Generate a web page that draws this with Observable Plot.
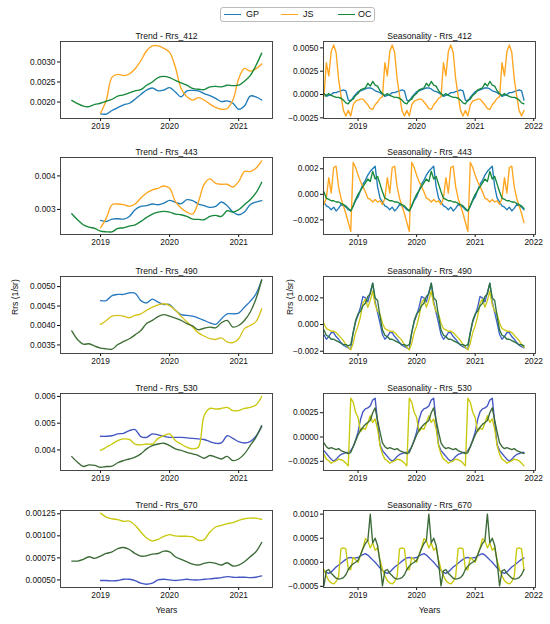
<!DOCTYPE html>
<html><head><meta charset="utf-8">
<script src="https://cdn.jsdelivr.net/npm/d3@7"></script>
<script src="https://cdn.jsdelivr.net/npm/@observablehq/plot@0.6"></script>
<style>
body{margin:0;background:#fff;font-family:"Liberation Sans",Arial,sans-serif;}
#wrap{position:relative;width:550px;height:624px;overflow:hidden;}
.panel{position:absolute;}
#legend{position:absolute;left:220px;top:7px;width:153px;height:13px;border:1px solid #bbb;border-radius:3px;background:#fff;font-size:9px;color:#111;}
.li{position:absolute;top:0;height:13px;line-height:13px;}
.ls{position:absolute;top:6px;height:0;border-top:1.5px solid;}
</style></head>
<body><div id="wrap">
<div id="legend"></div>
</div>
<script>
// ---------- DATA ----------
const seriesNames = ["GP", "JS", "OC"];
const bands = ["412", "443", "490", "530", "670"];
const trendMonths = ["2018-08","2018-09","2018-10","2018-11","2018-12",
  "2019-01","2019-02","2019-03","2019-04","2019-05","2019-06","2019-07","2019-08","2019-09","2019-10","2019-11","2019-12",
  "2020-01","2020-02","2020-03","2020-04","2020-05","2020-06","2020-07","2020-08","2020-09","2020-10","2020-11","2020-12",
  "2021-01","2021-02","2021-03","2021-04","2021-05"];
const N = null;
// Trend components (Rrs, 1/sr)
const trend412GP = [N,N,N,N,N,17.05e-4,17.0e-4,17.9e-4,18.6e-4,19.3e-4,19.7e-4,20.7e-4,21.9e-4,23.0e-4,23.5e-4,22.8e-4,23.0e-4,23.6e-4,22.5e-4,21.3e-4,22.8e-4,22.9e-4,22.8e-4,22.1e-4,21.6e-4,20.9e-4,20.1e-4,20.3e-4,19.7e-4,18.2e-4,19.0e-4,21.5e-4,21.3e-4,20.5e-4];
const trend412JS = [N,N,N,N,N,17.2e-4,20.5e-4,26.2e-4,26.9e-4,26.6e-4,27.0e-4,28.3e-4,30.3e-4,32.8e-4,34.0e-4,34.0e-4,33.4e-4,32.4e-4,28.7e-4,23.4e-4,21.3e-4,20.5e-4,21.1e-4,20.5e-4,19.5e-4,18.7e-4,18.2e-4,18.4e-4,20.5e-4,25.8e-4,28.4e-4,27.7e-4,28.3e-4,29.5e-4];
const trend412OC = [20.4e-4,19.6e-4,19.0e-4,18.85e-4,19.4e-4,19.7e-4,20.2e-4,20.7e-4,21.5e-4,21.8e-4,22.3e-4,22.8e-4,23.1e-4,24.2e-4,25.0e-4,26.1e-4,26.4e-4,26.1e-4,25.4e-4,24.8e-4,24.2e-4,23.4e-4,23.2e-4,23.1e-4,23.8e-4,23.9e-4,23.8e-4,24.2e-4,24.1e-4,24.2e-4,25.2e-4,26.6e-4,29.1e-4,32.2e-4];

const trend443GP = [N,N,N,N,N,2.67e-3,2.64e-3,2.71e-3,2.72e-3,2.71e-3,2.79e-3,2.99e-3,3.09e-3,3.11e-3,3.16e-3,3.14e-3,3.19e-3,3.27e-3,3.21e-3,3.17e-3,3.29e-3,3.26e-3,3.16e-3,3.11e-3,3.06e-3,3.09e-3,3.22e-3,3.11e-3,2.92e-3,2.84e-3,2.92e-3,3.14e-3,3.22e-3,3.26e-3];
const trend443JS = [N,N,N,N,N,2.45e-3,2.74e-3,3.14e-3,3.16e-3,3.14e-3,3.09e-3,3.16e-3,3.34e-3,3.49e-3,3.58e-3,3.63e-3,3.70e-3,3.63e-3,3.24e-3,3.04e-3,2.92e-3,2.86e-3,3.22e-3,3.75e-3,3.91e-3,3.78e-3,3.75e-3,3.75e-3,3.67e-3,3.83e-3,4.13e-3,4.13e-3,4.23e-3,4.45e-3];
const trend443OC = [2.87e-3,2.69e-3,2.54e-3,2.47e-3,2.43e-3,2.35e-3,2.33e-3,2.33e-3,2.43e-3,2.45e-3,2.50e-3,2.54e-3,2.64e-3,2.76e-3,2.86e-3,2.92e-3,2.94e-3,2.92e-3,2.86e-3,2.84e-3,2.79e-3,2.71e-3,2.70e-3,2.69e-3,2.79e-3,2.82e-3,2.79e-3,2.96e-3,2.92e-3,2.99e-3,3.14e-3,3.29e-3,3.49e-3,3.81e-3];

const trend490GP = [N,N,N,N,N,46.4e-4,46.4e-4,47.7e-4,48.0e-4,48.0e-4,48.4e-4,48.3e-4,46.4e-4,45.8e-4,46.8e-4,46.0e-4,45.4e-4,45.4e-4,43.9e-4,42.8e-4,42.6e-4,42.4e-4,41.9e-4,41.3e-4,40.7e-4,40.3e-4,41.7e-4,43.0e-4,43.0e-4,43.2e-4,44.7e-4,46.2e-4,48.1e-4,51.7e-4];
const trend490JS = [N,N,N,N,N,40.3e-4,41.3e-4,42.4e-4,42.6e-4,42.4e-4,42.0e-4,42.6e-4,43.0e-4,43.9e-4,44.7e-4,45.3e-4,45.6e-4,45.1e-4,43.9e-4,42.4e-4,40.9e-4,39.6e-4,38.1e-4,37.3e-4,36.6e-4,36.4e-4,36.8e-4,35.8e-4,35.6e-4,36.6e-4,39.2e-4,40.0e-4,41.0e-4,44.3e-4];
const trend490OC = [38.6e-4,36.4e-4,35.2e-4,35.3e-4,34.7e-4,34.2e-4,34.0e-4,33.9e-4,35.1e-4,35.9e-4,36.6e-4,37.6e-4,38.7e-4,40.5e-4,41.3e-4,42.3e-4,42.8e-4,42.4e-4,41.9e-4,41.3e-4,40.5e-4,39.9e-4,38.9e-4,39.3e-4,39.6e-4,39.4e-4,40.7e-4,41.3e-4,39.6e-4,40.0e-4,41.3e-4,43.4e-4,46.8e-4,51.7e-4];

const trend530GP = [N,N,N,N,N,4.51e-3,4.51e-3,4.53e-3,4.60e-3,4.62e-3,4.72e-3,4.76e-3,4.50e-3,4.47e-3,4.60e-3,4.56e-3,4.51e-3,4.47e-3,4.47e-3,4.47e-3,4.45e-3,4.43e-3,4.41e-3,4.39e-3,4.31e-3,4.25e-3,4.26e-3,4.53e-3,4.43e-3,4.31e-3,4.26e-3,4.31e-3,4.51e-3,4.87e-3];
const trend530JS = [N,N,N,N,N,3.98e-3,4.10e-3,4.22e-3,4.35e-3,4.41e-3,4.39e-3,4.22e-3,4.19e-3,4.22e-3,4.22e-3,4.43e-3,4.53e-3,4.60e-3,4.35e-3,4.22e-3,4.10e-3,4.04e-3,4.10e-3,5.28e-3,5.55e-3,5.53e-3,5.55e-3,5.59e-3,5.47e-3,5.47e-3,5.55e-3,5.59e-3,5.68e-3,6.00e-3];
const trend530OC = [3.75e-3,3.54e-3,3.38e-3,3.44e-3,3.42e-3,3.35e-3,3.38e-3,3.39e-3,3.52e-3,3.60e-3,3.66e-3,3.73e-3,3.85e-3,4.04e-3,4.16e-3,4.22e-3,4.25e-3,4.16e-3,4.04e-3,3.98e-3,3.91e-3,3.85e-3,3.79e-3,3.69e-3,3.79e-3,3.73e-3,3.66e-3,3.76e-3,3.60e-3,3.66e-3,3.85e-3,4.16e-3,4.47e-3,4.91e-3];

const trend670GP = [N,N,N,N,N,49.3e-5,49.3e-5,48.9e-5,49.3e-5,50.8e-5,50.8e-5,49.3e-5,46.3e-5,45.1e-5,46.3e-5,50.0e-5,50.8e-5,50.0e-5,49.3e-5,50.0e-5,50.8e-5,50.0e-5,50.0e-5,50.8e-5,51.1e-5,51.9e-5,52.6e-5,53.8e-5,53.0e-5,53.0e-5,53.0e-5,52.6e-5,53.0e-5,54.5e-5];
const trend670JS = [N,N,N,N,N,125.8e-5,121.3e-5,119.4e-5,118.3e-5,116.4e-5,116.8e-5,111.9e-5,104.4e-5,97.6e-5,94.3e-5,96.1e-5,99.5e-5,101.4e-5,99.9e-5,99.5e-5,99.5e-5,98.8e-5,95.0e-5,95.8e-5,104.4e-5,110.0e-5,111.9e-5,113.8e-5,114.9e-5,117.5e-5,119.4e-5,120.1e-5,120.1e-5,118.6e-5];
const trend670OC = [71.4e-5,71.4e-5,73.3e-5,76.3e-5,74.4e-5,77.0e-5,80.0e-5,81.9e-5,85.6e-5,86.8e-5,84.5e-5,80.0e-5,77.0e-5,77.4e-5,79.3e-5,80.0e-5,82.6e-5,81.9e-5,76.3e-5,73.3e-5,70.6e-5,68.0e-5,66.9e-5,68.8e-5,69.9e-5,68.8e-5,66.9e-5,69.5e-5,65.8e-5,66.9e-5,70.6e-5,76.3e-5,81.9e-5,92.4e-5];

// Seasonal components: one annual cycle sampled every half month (the cycle repeats each year)
const seasonYears = [2018, 2019, 2020, 2021];
const seasonStart = 2018.41, seasonEnd = 2021.84;
const season412GP = [0.3e-3,0.4e-3,0.5e-3,0.6e-3,0.7e-3,0.7e-3,0.6e-3,0.4e-3,0.3e-3,0.2e-3,0.0,-0.2e-3,-0.1e-3,0.0,0.2e-3,0.2e-3,0.3e-3,0.4e-3,0.5e-3,0.4e-3,-0.6e-3,-0.7e-3,-0.3e-3,0.0];
const season412JS = [-0.6e-3,-0.5e-3,-0.5e-3,-0.8e-3,-1.1e-3,-1.5e-3,-1.6e-3,-1.1e-3,-0.8e-3,-0.4e-3,-0.25e-3,3.4e-3,2.0e-3,4.6e-3,5.3e-3,4.5e-3,1.7e-3,-0.1e-3,-1.7e-3,-2.3e-3,-1.7e-3,-2.3e-3,-1.1e-3,-0.7e-3];
const season412OC = [0.1e-3,0.5e-3,0.6e-3,0.7e-3,1.2e-3,0.9e-3,1.4e-3,1.0e-3,0.9e-3,0.4e-3,0.1e-3,-0.1e-3,0.1e-3,-0.1e-3,-0.2e-3,-0.3e-3,-0.3e-3,-0.4e-3,-0.6e-3,-0.9e-3,-1.0e-3,-0.6e-3,-0.5e-3,-0.1e-3];

const season443GP = [-0.2e-3,0.3e-3,0.8e-3,1.1e-3,1.5e-3,1.8e-3,2.0e-3,2.2e-3,0.6e-3,-0.3e-3,-0.6e-3,-0.9e-3,-1.0e-3,-1.2e-3,-1.0e-3,-1.3e-3,-1.1e-3,-0.8e-3,-0.9e-3,-1.0e-3,-1.2e-3,-1.3e-3,-0.9e-3,-0.5e-3];
const season443JS = [1.5e-3,1.0e-3,0.6e-3,0.2e-3,-0.3e-3,-0.4e-3,-0.6e-3,-0.4e-3,-0.6e-3,-0.5e-3,-0.8e-3,-0.3e-3,1.3e-3,0.1e-3,2.1e-3,2.2e-3,0.6e-3,-0.3e-3,-0.9e-3,-1.5e-3,-2.2e-3,-2.9e-3,2.5e-3,2.1e-3];
const season443OC = [0.0,0.3e-3,0.6e-3,0.9e-3,1.2e-3,1.0e-3,1.8e-3,1.2e-3,1.4e-3,0.8e-3,0.2e-3,-0.3e-3,-0.4e-3,-0.5e-3,-0.5e-3,-0.6e-3,-0.6e-3,-0.7e-3,-0.8e-3,-0.9e-3,-1.1e-3,-1.3e-3,-0.9e-3,-0.4e-3];

const season490GP = [0.7e-3,1.3e-3,2.1e-3,2.0e-3,1.7e-3,2.4e-3,3.1e-3,1.7e-3,0.9e-3,0.1e-3,-0.75e-3,-1.1e-3,-0.9e-3,-0.6e-3,-0.6e-3,-0.9e-3,-1.1e-3,-1.35e-3,-1.55e-3,-1.65e-3,-1.75e-3,-1.85e-3,-0.6e-3,0.2e-3];
const season490JS = [-0.1e-3,0.6e-3,1.6e-3,1.9e-3,1.3e-3,1.8e-3,2.5e-3,1.5e-3,1.0e-3,0.8e-3,0.1e-3,-0.3e-3,-0.4e-3,-0.5e-3,-0.5e-3,-0.6e-3,-0.8e-3,-1.0e-3,-1.2e-3,-1.5e-3,-1.7e-3,-1.9e-3,-1.4e-3,-0.6e-3];
const season490OC = [0.8e-3,1.0e-3,1.4e-3,1.6e-3,2.1e-3,2.3e-3,3.1e-3,2.0e-3,1.8e-3,0.6e-3,-0.4e-3,-0.8e-3,-0.9e-3,-1.1e-3,-1.1e-3,-1.2e-3,-1.3e-3,-1.4e-3,-1.5e-3,-1.5e-3,-1.6e-3,-1.5e-3,-0.6e-3,0.3e-3];

const season530GP = [5e-4,18e-4,26e-4,29e-4,30e-4,32e-4,38e-4,40e-4,15e-4,-8e-4,-14e-4,-17e-4,-20e-4,-23e-4,-25e-4,-23e-4,-20e-4,-18e-4,-17e-4,-16e-4,-16e-4,-14e-4,-10e-4,-3e-4];
const season530JS = [20e-4,5.5e-4,9e-4,8e-4,14.5e-4,22e-4,15e-4,18.6e-4,8e-4,-9e-4,-17.6e-4,-22.8e-4,-24.5e-4,-27e-4,-25.5e-4,-24.5e-4,-22.8e-4,-23.4e-4,-24.5e-4,-27e-4,-29.7e-4,40e-4,36e-4,25.5e-4];
const season530OC = [2e-4,7e-4,10e-4,13e-4,15e-4,17e-4,25e-4,30e-4,17e-4,5e-4,-6e-4,-10e-4,-12e-4,-11e-4,-12e-4,-13e-4,-12e-4,-14e-4,-15e-4,-16e-4,-17e-4,-16e-4,-10e-4,-4e-4];

const season670GP = [1.0e-4,1.3e-4,1.6e-4,1.8e-4,1.5e-4,1.0e-4,0.5e-4,0.0,-0.6e-4,-1.2e-4,-1.7e-4,-2.1e-4,-2.3e-4,-2.0e-4,-1.5e-4,-1.0e-4,-0.6e-4,-0.2e-4,0.2e-4,0.6e-4,0.9e-4,1.0e-4,0.8e-4,0.9e-4];
const season670JS = [0.0,1.5e-4,3.0e-4,4.9e-4,4.5e-4,3.0e-4,4.0e-4,2.5e-4,3.0e-4,0.5e-4,-1.5e-4,-2.8e-4,-3.8e-4,-4.3e-4,-4.5e-4,-4.0e-4,-3.0e-4,2.8e-4,3.0e-4,2.8e-4,-1.5e-4,-1.5e-4,1.0e-4,0.5e-4];
const season670OC = [0.4e-4,1.5e-4,2.8e-4,3.9e-4,4.5e-4,10.0e-4,4.0e-4,5.0e-4,3.5e-4,0.0,-4.9e-4,-1.8e-4,-1.5e-4,-2.3e-4,-2.8e-4,-3.3e-4,-3.5e-4,-3.4e-4,-3.2e-4,-2.6e-4,-1.5e-4,-0.8e-4,-0.3e-4,0.0];

// y axis ticks per band
const trendTicks = {"412":[0.0020,0.0025,0.0030],"443":[0.003,0.004],"490":[0.0035,0.0040,0.0045,0.0050],"530":[0.004,0.005,0.006],"670":[0.0005,0.00075,0.0010,0.00125]};
const trendDecimals = {"412":4,"443":3,"490":4,"530":3,"670":5};
const seasonTicks = {"412":[-0.0025,0,0.0025,0.0050],"443":[-0.002,0,0.002],"490":[-0.002,0,0.002],"530":[-0.0025,0,0.0025],"670":[-0.0005,0,0.0005,0.0010]};
const seasonDecimals = {"412":4,"443":3,"490":3,"530":4,"670":4};
const trendXTicks = [2019, 2020, 2021];
const seasonXTicks = [2019, 2020, 2021, 2022];

// ---------- LAYOUT / STYLE ----------
const trendYDomain = {"412":[15.9e-4,35.1e-4],"443":[2.25e-3,4.55e-3],"490":[32.8e-4,52.6e-4],"530":[3.23e-3,6.11e-3],"670":[41.4e-5,128.75e-5]};
const seasonYDomain = {"412":[-25.7e-4,56.8e-4],"443":[-3.14e-3,2.88e-3],"490":[-2.17e-3,3.6e-3],"530":[-34.5e-4,44.8e-4],"670":[-5.24e-4,10.76e-4]};
const frameTops = [41, 157, 276, 393, 510];
const colTop = {GP:"#1f7bb8", JS:"#ffa51f", OC:"#17883a"};
const rowColors = [
  {trend: colTop, season: colTop},
  {trend: colTop, season: colTop},
  {trend: {GP:"#2a78c0", JS:"#d6c21c", OC:"#3e6e34"}, season: {GP:"#3e62c8", JS:"#cdc81a", OC:"#2f7440"}},
  {trend: {GP:"#4255c2", JS:"#c8c80c", OC:"#3b6a37"}, season: {GP:"#4255c2", JS:"#c8c80c", OC:"#3b6a37"}},
  {trend: {GP:"#4255c2", JS:"#c8c80c", OC:"#3b6a37"}, season: {GP:"#4255c2", JS:"#c8c80c", OC:"#3b6a37"}}
];

const fmt = n => v => (v < 0 ? "\u2212" : "") + Math.abs(v).toFixed(n);
const monthToYear = s => { const [y, m] = s.split("-"); return +y + (+m - 1) / 12; };

const trendData = {
  "412": {GP: trend412GP, JS: trend412JS, OC: trend412OC},
  "443": {GP: trend443GP, JS: trend443JS, OC: trend443OC},
  "490": {GP: trend490GP, JS: trend490JS, OC: trend490OC},
  "530": {GP: trend530GP, JS: trend530JS, OC: trend530OC},
  "670": {GP: trend670GP, JS: trend670JS, OC: trend670OC}
};
const seasonData = {
  "412": {GP: season412GP, JS: season412JS, OC: season412OC},
  "443": {GP: season443GP, JS: season443JS, OC: season443OC},
  "490": {GP: season490GP, JS: season490JS, OC: season490OC},
  "530": {GP: season530GP, JS: season530JS, OC: season530OC},
  "670": {GP: season670GP, JS: season670JS, OC: season670OC}
};

function trendRows(values) {
  return trendMonths.map((m, i) => ({x: monthToYear(m), y: values[i]})).filter(d => d.y != null);
}
function seasonRows(cycle) {
  const out = [];
  for (const Y of seasonYears) cycle.forEach((v, j) => {
    const x = Y + j / cycle.length;
    if (x >= seasonStart && x <= seasonEnd) out.push({x, y: v});
  });
  return out;
}

const wrap = document.getElementById("wrap");
const FS = 8.3;

function makePanel({left, top, height, ml, mr, mb, xDomain, xTicks, yDomain, yTicks, dec, title, rows, colors, curve, ylabelDx, xlabel}) {
  const marks = [
    Plot.axisX({ticks: xTicks, tickFormat: d => String(d), tickSize: 3, tickPadding: 2, label: null, fontSize: FS}),
    Plot.axisY({ticks: yTicks, tickFormat: fmt(dec), tickSize: 3, tickPadding: 2, label: null, fontSize: FS}),
    ...seriesNames.map(s => Plot.line(rows[s], {x: "x", y: "y", stroke: colors[s], strokeWidth: 1.35, curve})),
    Plot.frame({stroke: "#333", strokeWidth: 0.9}),
    Plot.text([title], {frameAnchor: "top", dy: -9, fontSize: FS + 0.3, fill: "#111"})
  ];
  if (ylabelDx) marks.push(Plot.text(["Rrs (1/sr)"], {frameAnchor: "left", dx: -ylabelDx, rotate: -90, fontSize: FS + 0.3, fill: "#111"}));
  if (xlabel) marks.push(Plot.text([xlabel], {frameAnchor: "bottom", dy: 25, fontSize: FS + 0.3, fill: "#111"}));
  const svg = Plot.plot({
    width: 275, height,
    marginLeft: ml, marginRight: mr, marginTop: 17, marginBottom: mb,
    x: {type: "linear", domain: xDomain},
    y: {type: "linear", domain: yDomain},
    style: {fontFamily: "'Liberation Sans', Arial, sans-serif", fontSize: FS + "px", color: "#111", background: "transparent"},
    marks
  });
  const div = document.createElement("div");
  div.className = "panel";
  div.style.left = left + "px";
  div.style.top = top + "px";
  div.appendChild(svg);
  wrap.appendChild(div);
}

bands.forEach((b, r) => {
  const last = r === bands.length - 1;
  const height = last ? 131 : 117;
  const mb = height - 17 - 77;
  const top = frameTops[r] - 17;
  const tRows = {}, sRows = {};
  seriesNames.forEach(s => { tRows[s] = trendRows(trendData[b][s]); sRows[s] = seasonRows(seasonData[b][s]); });
  makePanel({left: 0, top, height, ml: 60, mr: 3, mb,
    xDomain: [2018.42, 2021.49], xTicks: trendXTicks, yDomain: trendYDomain[b], yTicks: trendTicks[b], dec: trendDecimals[b],
    title: "Trend - Rrs_" + b, rows: tRows, colors: rowColors[r].trend, curve: "catmull-rom",
    ylabelDx: r === 2 ? 45 : 0, xlabel: last ? "Years" : null});
  makePanel({left: 275, top, height, ml: 48, mr: 15, mb,
    xDomain: [2018.41, 2022.03], xTicks: seasonXTicks, yDomain: seasonYDomain[b], yTicks: seasonTicks[b], dec: seasonDecimals[b],
    title: "Seasonality - Rrs_" + b, rows: sRows, colors: rowColors[r].season, curve: "linear",
    ylabelDx: r === 2 ? 33 : 0, xlabel: last ? "Years" : null});
});

// Legend
const legend = document.getElementById("legend");
const legendPos = {GP: [3, 25], JS: [60, 82], OC: [117, 137]};
seriesNames.forEach(s => {
  const ln = document.createElement("div");
  ln.className = "ls";
  ln.style.left = legendPos[s][0] + "px";
  ln.style.width = "17px";
  ln.style.borderTopColor = colTop[s];
  legend.appendChild(ln);
  const tx = document.createElement("div");
  tx.className = "li";
  tx.style.left = legendPos[s][1] + "px";
  tx.textContent = s;
  legend.appendChild(tx);
});
</script>
</body></html>
